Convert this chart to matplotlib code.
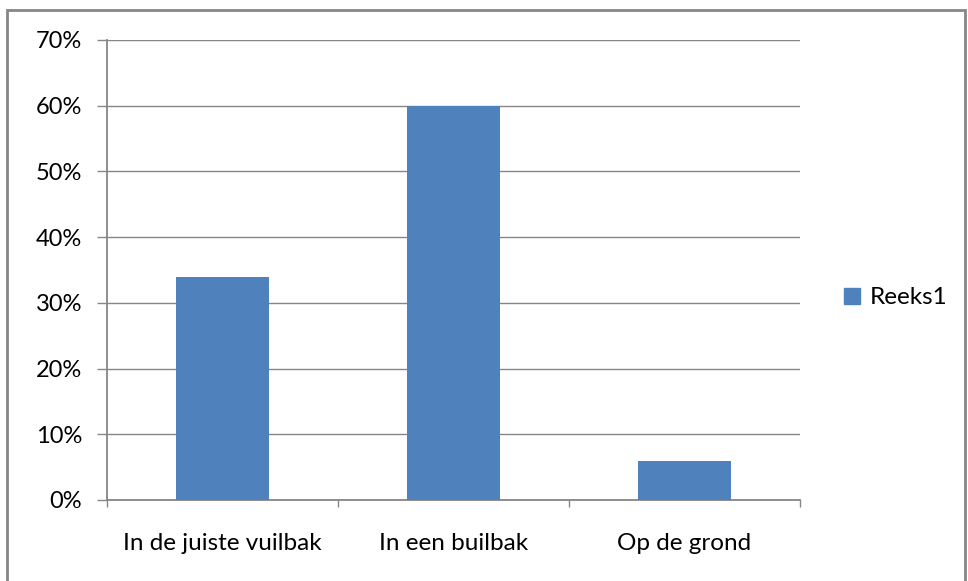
import matplotlib.pyplot as plt
from matplotlib.patches import Rectangle, Patch
from matplotlib.ticker import PercentFormatter, FixedLocator

categories = ["In de juiste vuilbak", "In een builbak", "Op de grond"]
values = [34, 60, 6]
series_name = "Reeks1"

plt.rcParams['font.family'] = ['Lato', 'DejaVu Sans']
grey = '#868686'
bar_color = '#4F81BD'

fig = plt.figure(figsize=(9.68, 5.81), dpi=100)
W, H = 968, 581
ax = fig.add_axes([107 / W, 1 - 500 / H, (800 - 107) / W, (500 - 40) / H])

x = list(range(len(categories)))
ax.bar(x, values, width=0.40, color=bar_color, zorder=3)

ax.set_xlim(-0.5, len(categories) - 0.5)
ax.set_ylim(0, 70)
ax.set_yticks(range(0, 71, 10))
ax.yaxis.set_major_formatter(PercentFormatter(decimals=0))
ax.grid(axis='y', color=grey, linewidth=1, zorder=0)

ax.set_xticks(x)
ax.set_xticklabels(categories)
ax.xaxis.set_minor_locator(FixedLocator([i - 0.5 for i in range(len(categories) + 1)]))
ax.tick_params(axis='x', which='major', length=0, pad=24, labelsize=17.5)
ax.tick_params(axis='x', which='minor', length=5, color=grey, width=1)
ax.tick_params(axis='y', length=7, color=grey, width=1, labelsize=17, pad=11)

for s in ['top', 'right']:
    ax.spines[s].set_visible(False)
for s in ['left', 'bottom']:
    ax.spines[s].set_color(grey)
    ax.spines[s].set_linewidth(1.3)

fig.legend(handles=[Patch(color=bar_color, label=series_name)],
           loc='center left', bbox_to_anchor=(822 / W, 1 - 298 / H),
           frameon=False, fontsize=17.5, handlelength=0.65, handleheight=0.65,
           handletextpad=0.4)

fig.patches.append(Rectangle((7 / W, -0.01), (965 - 7) / W, 1 - 10 / H + 0.01,
                             transform=fig.transFigure, fill=False,
                             edgecolor=grey, linewidth=2))

fig.savefig("out.png", dpi=100)
